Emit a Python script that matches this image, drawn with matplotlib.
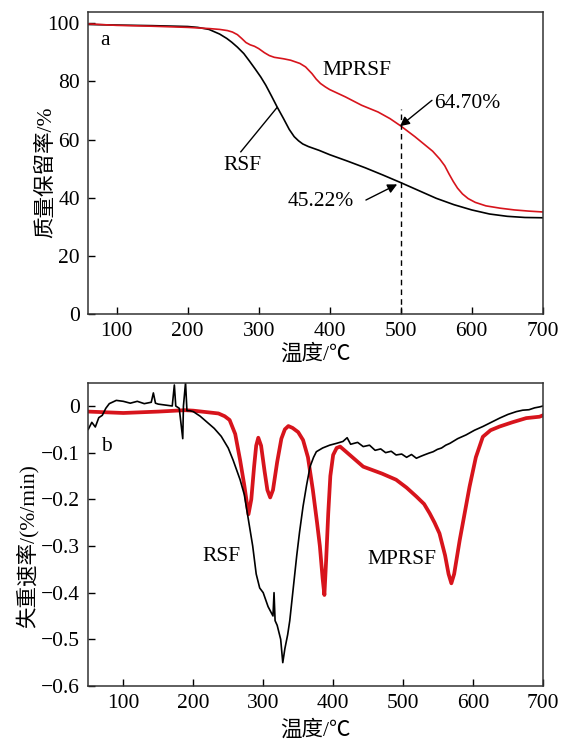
import matplotlib
matplotlib.use("Agg")
import matplotlib.pyplot as plt
import numpy as np

plt.rcParams['font.family'] = ['Liberation Serif', 'Noto Sans CJK SC', 'DejaVu Sans']
plt.rcParams['font.size'] = 15.5
plt.rcParams['axes.unicode_minus'] = True

# ---- (a) TG: mass retention (%) vs temperature (C)
rsf_tg_t = [60, 100, 150, 200, 214, 230, 245, 255, 262, 270, 279, 287, 295, 303,
            310, 318, 326, 335, 343, 350, 356, 362, 370, 385, 400, 425, 450, 475,
            500, 525, 550, 575, 600, 625, 650, 675, 700]
rsf_tg_v = [99.6, 99.4, 99.2, 98.9, 98.6, 97.9, 96.3, 94.8, 93.5, 91.8, 89.6, 87.0,
            84.3, 81.5, 78.7, 75.0, 71.2, 67.2, 63.5, 61.0, 59.6, 58.5, 57.6, 56.3,
            54.8, 52.6, 50.3, 47.8, 45.2, 42.5, 39.8, 37.6, 35.8, 34.4, 33.6, 33.2,
            33.1]

mprsf_tg_t = [60, 100, 150, 200, 230, 245, 256, 263, 270, 276, 282, 288, 294, 300,
              308, 315, 322, 335, 345, 358, 366, 375, 381, 387, 394, 400, 422, 445,
              468, 485, 500, 520, 535, 545, 555, 562, 568, 574, 580, 587, 595, 605,
              620, 640, 660, 680, 700]
mprsf_tg_v = [99.8, 99.3, 99.0, 98.6, 98.2, 97.9, 97.5, 97.0, 96.1, 94.8, 93.4, 92.6,
              92.1, 91.3, 89.9, 88.9, 88.3, 87.8, 87.3, 86.2, 85.0, 82.7, 80.8, 79.3,
              78.1, 77.2, 74.7, 71.8, 69.5, 67.2, 64.7, 61.0, 58.0, 56.0, 53.3, 51.0,
              48.2, 45.6, 43.3, 41.3, 39.7, 38.4, 37.2, 36.4, 35.8, 35.4, 35.1]

# ---- (b) DTG: mass loss rate (%/min) vs temperature (C)
rsf_dtg_t = [50, 55, 60, 65, 70, 75, 80, 90, 100, 110, 120, 130, 140, 143, 146, 150,
             160, 170, 173, 175, 180, 185, 186, 189, 191, 195, 200, 210, 220, 230,
             240, 250, 257, 267, 273, 279, 285, 290, 295, 300, 307, 314, 315.5, 317,
             320, 325, 328, 331, 335, 338, 343, 348, 352, 357, 362, 367, 372, 376,
             385, 395, 405, 414, 420, 425, 435, 443, 452, 460, 468, 475, 483, 490,
             498, 505, 512, 519, 525, 530, 537, 543, 549, 555, 561, 567, 578, 590,
             602, 614, 626, 638, 650, 662, 671, 680, 688, 695, 700]
rsf_dtg_v = [-0.05, -0.035, -0.045, -0.025, -0.02, -0.005, 0.005, 0.012, 0.010, 0.006,
             0.010, 0.005, 0.008, 0.028, 0.006, 0.004, 0.002, 0.0, 0.045, 0.0, -0.005,
             -0.07, 0.0, 0.05, -0.01, -0.01, -0.012, -0.022, -0.035, -0.048, -0.065,
             -0.09, -0.116, -0.158, -0.19, -0.245, -0.30, -0.36, -0.39, -0.40, -0.43,
             -0.45, -0.40, -0.46, -0.47, -0.50, -0.55, -0.52, -0.49, -0.46, -0.39,
             -0.32, -0.27, -0.215, -0.17, -0.13, -0.11, -0.098, -0.09, -0.084, -0.08,
             -0.076, -0.068, -0.082, -0.078, -0.087, -0.084, -0.095, -0.092, -0.10,
             -0.097, -0.105, -0.103, -0.11, -0.104, -0.112, -0.108, -0.105, -0.101,
             -0.098, -0.093, -0.09, -0.084, -0.08, -0.07, -0.062, -0.052, -0.044,
             -0.035, -0.026, -0.018, -0.012, -0.009, -0.008, -0.004, -0.002, 0.0]

mprsf_dtg_t = [50, 100, 150, 188, 200, 236, 245, 252, 260, 267, 273, 279, 283, 287,
               290, 293, 297, 302, 306, 310, 314, 320, 326, 331, 336, 342, 350, 357,
               364, 371, 377, 381, 385, 387.5, 390, 393, 396, 400, 405, 410, 420,
               443, 470, 490, 505, 519, 530, 538, 545, 552, 560, 565, 569, 573, 581,
               588, 595, 604, 614, 625, 638, 656, 676, 695, 700]
mprsf_dtg_v = [-0.012, -0.015, -0.012, -0.009, -0.01, -0.016, -0.022, -0.03, -0.06,
               -0.116, -0.17, -0.232, -0.20, -0.13, -0.085, -0.068, -0.085, -0.14,
               -0.18, -0.196, -0.18, -0.12, -0.07, -0.05, -0.043, -0.047, -0.056,
               -0.073, -0.11, -0.18, -0.25, -0.30, -0.37, -0.405, -0.33, -0.23, -0.15,
               -0.105, -0.09, -0.087, -0.10, -0.13, -0.145, -0.158, -0.175, -0.194,
               -0.21, -0.23, -0.25, -0.273, -0.32, -0.36, -0.38, -0.36, -0.287, -0.23,
               -0.173, -0.11, -0.066, -0.052, -0.044, -0.035, -0.026, -0.023, -0.02]

tg_yticks = [0, 20, 40, 60, 80, 100]
dtg_yticks = [0, -0.1, -0.2, -0.3, -0.4, -0.5, -0.6]
dtg_yticklabels = ['0', '\u22120.1', '\u22120.2', '\u22120.3', '\u22120.4', '\u22120.5', '\u22120.6']
xticks = [100, 200, 300, 400, 500, 600, 700]

red = '#d7141c'
fs = 15.5

fig = plt.figure(figsize=(5.69, 7.40), dpi=100)
ax1 = fig.add_axes([0.1552, 0.5757, 0.7986, 0.4085])
ax2 = fig.add_axes([0.1552, 0.0730, 0.7991, 0.4099])

for ax in (ax1, ax2):
    for s in ax.spines.values():
        s.set_linewidth(1.1)
        s.set_color('#333333')
    ax.tick_params(direction='in', length=5, width=1, top=False, right=False,
                   labelsize=fs, pad=6)
    ax.set_xticks(xticks)

# top panel
ax1.plot(rsf_tg_t, rsf_tg_v, color='k', lw=1.2)
ax1.plot(mprsf_tg_t, mprsf_tg_v, color=red, lw=1.2)
ax1.set_xlim(60, 700)
ax1.set_ylim(0, 104)
ax1.set_yticks(tg_yticks)
ax1.set_xlabel('温度/℃', fontsize=fs, labelpad=2)
ax1.set_ylabel('质量保留率/%', fontsize=fs)
ax1.yaxis.set_label_coords(-0.07, 0.47)
ax1.plot([500, 500], [0, 70.5], color='k', lw=1, ls=(0, (4, 3)))
arrow = dict(arrowstyle='-|>', color='k', lw=1, mutation_scale=14, shrinkA=0, shrinkB=0)
ax1.annotate('', xy=(499, 64.6), xytext=(544, 73.5), arrowprops=arrow)
ax1.text(547, 72.4, '64.70%', ha='left', va='center')
ax1.annotate('', xy=(495, 44.6), xytext=(451, 39.2), arrowprops=arrow)
ax1.text(387, 38.6, '45.22%', ha='center', va='center')
ax1.text(439, 83.8, 'MPRSF', ha='center', va='center')
ax1.plot([274.8, 325.7], [55.8, 71.0], color='k', lw=1)
ax1.text(276.6, 51, 'RSF', ha='center', va='center')
ax1.text(77, 94, 'a', ha='left', va='center')

# bottom panel
ax2.plot(mprsf_dtg_t, mprsf_dtg_v, color=red, lw=2.7, solid_joinstyle='round')
ax2.plot(rsf_dtg_t, rsf_dtg_v, color='k', lw=1.2)
ax2.set_xlim(50, 700)
ax2.set_ylim(-0.6, 0.05)
ax2.set_yticks(dtg_yticks)
ax2.set_yticklabels(dtg_yticklabels)
ax2.set_xlabel('温度/℃', fontsize=fs, labelpad=5)
ax2.set_ylabel('失重速率/(%/min)', fontsize=fs)
ax2.yaxis.set_label_coords(-0.11, 0.46)
ax2.text(241, -0.323, 'RSF', ha='center', va='center')
ax2.text(499, -0.33, 'MPRSF', ha='center', va='center')
ax2.text(68, -0.087, 'b', ha='left', va='center')

fig.savefig('out.png', dpi=100)
